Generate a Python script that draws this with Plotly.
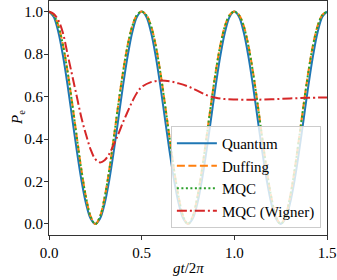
import plotly.graph_objects as go

t = [round(i * 0.025, 4) for i in range(61)]

quantum = [
    1.000, 0.976, 0.905, 0.794, 0.655, 0.500, 0.345, 0.206, 0.095, 0.024,
    0.000, 0.024, 0.095, 0.206, 0.345, 0.500, 0.655, 0.794, 0.905, 0.976,
    1.000, 0.976, 0.905, 0.794, 0.655, 0.500, 0.345, 0.206, 0.095, 0.024,
    0.000, 0.024, 0.095, 0.206, 0.345, 0.500, 0.655, 0.794, 0.905, 0.976,
    1.000, 0.976, 0.905, 0.794, 0.655, 0.500, 0.345, 0.206, 0.095, 0.024,
    0.000, 0.024, 0.095, 0.206, 0.345, 0.500, 0.655, 0.794, 0.905, 0.976,
    1.000,
]

duffing = [
    1.000, 0.985, 0.935, 0.845, 0.720, 0.570, 0.410, 0.255, 0.125, 0.035,
    0.000, 0.035, 0.125, 0.255, 0.410, 0.570, 0.720, 0.845, 0.935, 0.985,
    1.000, 0.985, 0.935, 0.845, 0.720, 0.570, 0.410, 0.255, 0.125, 0.035,
    0.000, 0.035, 0.125, 0.255, 0.410, 0.570, 0.720, 0.845, 0.935, 0.985,
    1.000, 0.985, 0.935, 0.845, 0.720, 0.570, 0.410, 0.255, 0.125, 0.035,
    0.000, 0.035, 0.125, 0.255, 0.410, 0.570, 0.720, 0.845, 0.935, 0.985,
    1.000,
]

mqc = [
    1.000, 0.984, 0.933, 0.843, 0.718, 0.568, 0.408, 0.253, 0.124, 0.034,
    0.000, 0.034, 0.124, 0.253, 0.408, 0.568, 0.718, 0.843, 0.933, 0.984,
    1.000, 0.984, 0.933, 0.843, 0.718, 0.568, 0.408, 0.253, 0.124, 0.034,
    0.000, 0.034, 0.124, 0.253, 0.408, 0.568, 0.718, 0.843, 0.933, 0.984,
    1.000, 0.984, 0.933, 0.843, 0.718, 0.568, 0.408, 0.253, 0.124, 0.034,
    0.000, 0.034, 0.124, 0.253, 0.408, 0.568, 0.718, 0.843, 0.933, 0.984,
    1.000,
]

wigner_t = [0.0, 0.025, 0.05, 0.075, 0.1, 0.125, 0.15, 0.175, 0.2, 0.225,
            0.25, 0.275, 0.3, 0.325, 0.35, 0.375, 0.4, 0.425, 0.45, 0.475,
            0.5, 0.55, 0.6, 0.65, 0.7, 0.75, 0.8, 0.85, 0.9, 0.95,
            1.0, 1.1, 1.2, 1.3, 1.4, 1.5]
wigner = [1.000, 0.990, 0.960, 0.900, 0.800, 0.700, 0.600, 0.500, 0.420, 0.350,
          0.305, 0.290, 0.300, 0.330, 0.375, 0.425, 0.480, 0.530, 0.578, 0.618,
          0.645, 0.668, 0.675, 0.672, 0.662, 0.648, 0.628, 0.607, 0.594, 0.588,
          0.586, 0.585, 0.587, 0.591, 0.594, 0.596]

x_ticks = [0, 0.5, 1.0, 1.5]
x_tick_labels = ["0.0", "0.5", "1.0", "1.5"]
y_ticks = [0, 0.2, 0.4, 0.6, 0.8, 1.0]
y_tick_labels = ["0.0", "0.2", "0.4", "0.6", "0.8", "1.0"]

series = [
    ("Quantum", t, quantum, "#1f77b4", "solid"),
    ("Duffing", t, duffing, "#ff7f0e", "8px,3.5px"),
    ("MQC", t, mqc, "#2ca02c", "2px,2.5px"),
    ("MQC (Wigner)", wigner_t, wigner, "#d62728", "10px,3px,2px,3px"),
]

fig = go.Figure()
for name, xs, ys, color, dash in series:
    fig.add_trace(go.Scatter(
        x=xs, y=ys, name=name, mode="lines",
        line=dict(color=color, width=2, dash=dash, shape="spline", smoothing=1.0),
    ))

font = "Liberation Serif"
axis_common = dict(
    showgrid=False, zeroline=False, showline=True, linecolor="#333333",
    linewidth=1.2, mirror=True, ticks="outside", ticklen=4, tickwidth=1,
    tickcolor="#333333", tickfont=dict(family=font, size=15, color="black"),
    automargin=False,
)

plot_h = 280 - 1 - 45
plot_w = 337 - 49 - 10

fig.update_layout(
    width=337, height=280,
    margin=dict(l=49, r=10, t=1, b=45),
    paper_bgcolor="white", plot_bgcolor="white",
    font=dict(family=font, size=15, color="black"),
    xaxis=dict(range=[0, 1.5], tickvals=x_ticks, ticktext=x_tick_labels,
               **axis_common),
    yaxis=dict(range=[-0.052, 1.05], tickvals=y_ticks, ticktext=y_tick_labels,
               ticklabelstandoff=-2, **axis_common),
    legend=dict(x=0.978, y=0.03, xanchor="right", yanchor="bottom",
                bgcolor="rgba(255,255,255,0.8)", bordercolor="#cccccc",
                borderwidth=1, font=dict(family=font, size=15),
                tracegroupgap=0, itemwidth=40),
    showlegend=True,
    annotations=[
        dict(text="<i>gt</i>/2<i>π</i>", x=0.5, xref="paper",
             y=(235 - 268) / plot_h, yref="paper", xanchor="center",
             yanchor="middle", showarrow=False, font=dict(family=font, size=15)),
        dict(text="<i>P</i><sub>e</sub>", x=(18 - 49) / plot_w, y=0.5,
             xref="paper", yref="paper", xanchor="center", yanchor="middle",
             showarrow=False, textangle=-90, font=dict(family=font, size=15)),
    ],
)

fig.write_html(
    "out.html",
    config={"displayModeBar": False},
    post_script="document.body.style.margin='0';document.body.style.padding='0';",
)
